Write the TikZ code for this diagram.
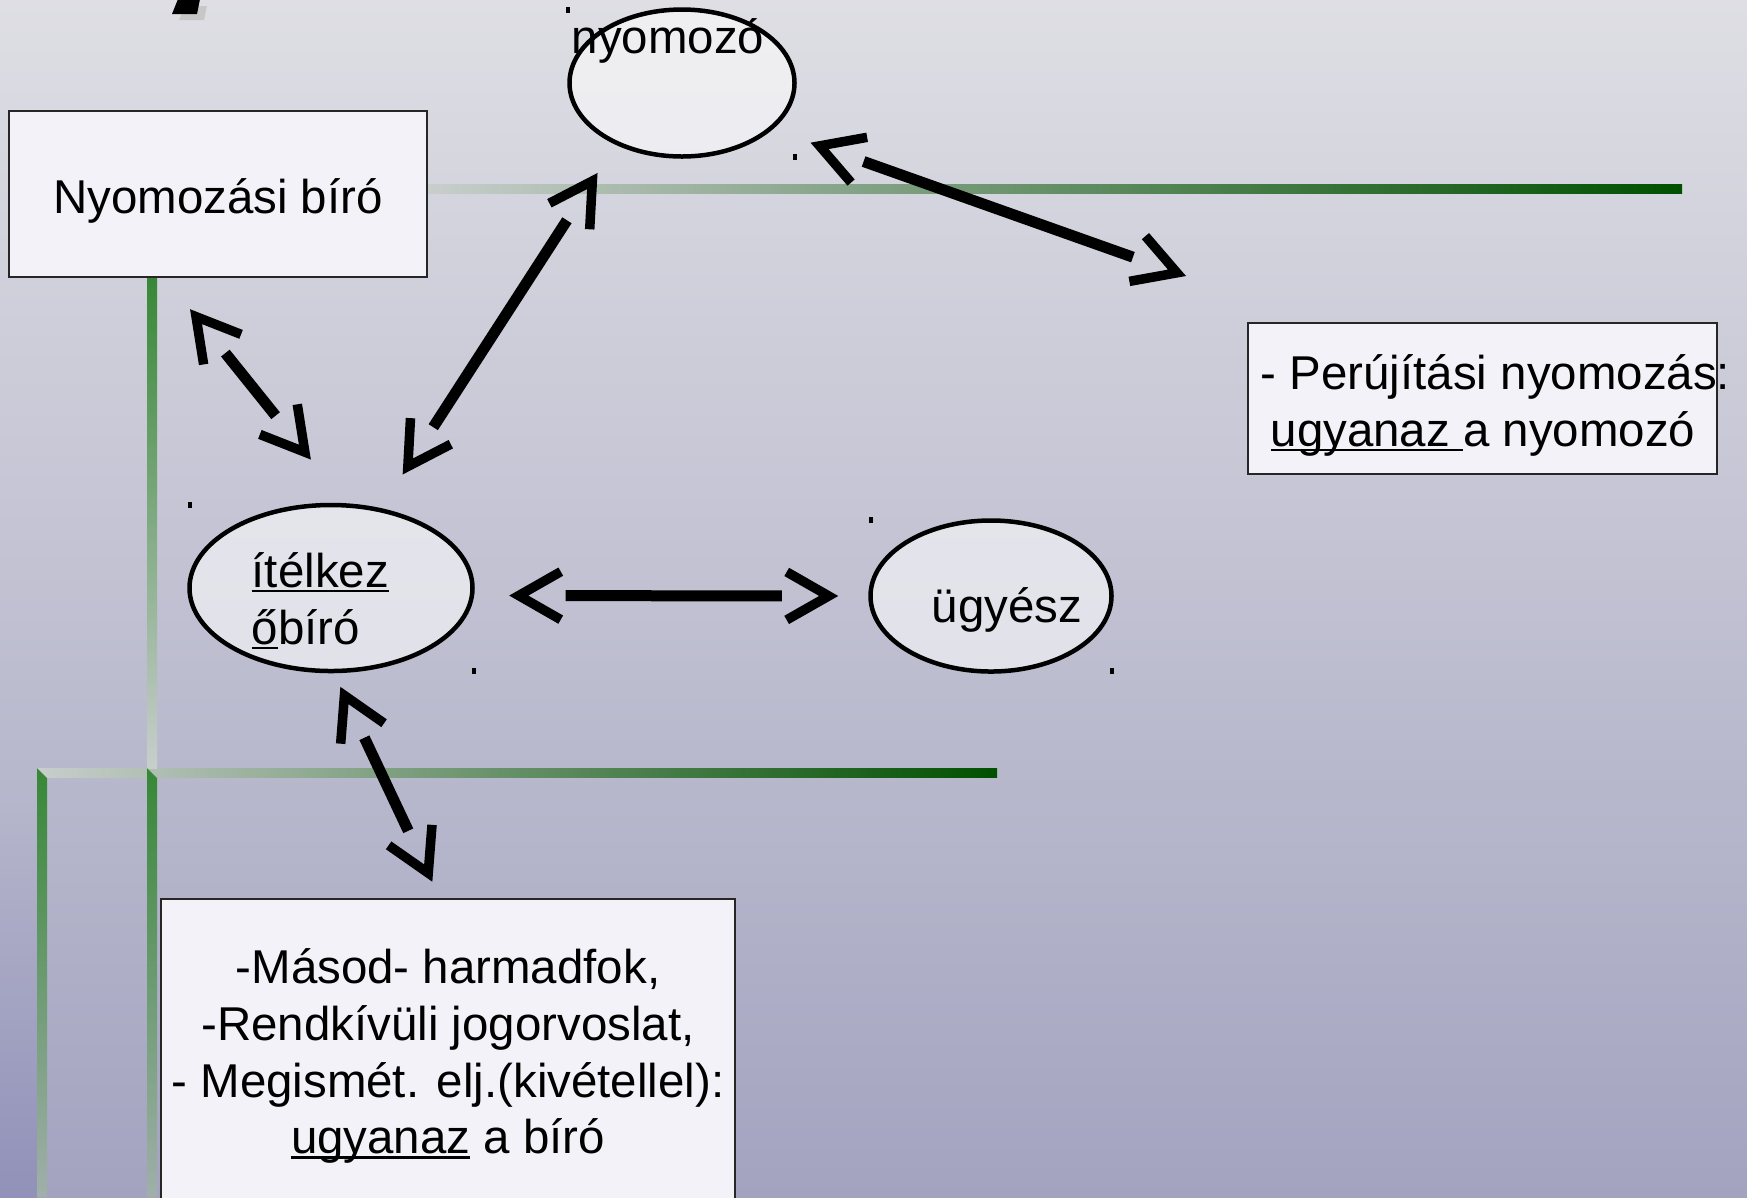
\documentclass[tikz,border=0pt]{standalone}
\usepackage{fontspec}
\setmainfont{Liberation Sans}
\usetikzlibrary{arrows.meta,shapes.geometric}
\definecolor{bgtop}{RGB}{222,222,228}
\definecolor{bgbot}{RGB}{163,163,192}
\definecolor{stripbot}{RGB}{145,145,185}
\definecolor{dkgreen}{RGB}{0,80,0}
\definecolor{midgreen}{RGB}{55,135,55}
\definecolor{ltgreen}{RGB}{200,206,204}
\definecolor{gygreen}{RGB}{160,175,170}
\definecolor{boxfill}{RGB}{242,242,248}
\newcommand\ulw[1]{\setbox0\hbox{#1}\rlap{\rule[-0.1em]{\wd0}{0.05em}}\box0\relax}
\begin{document}
\begin{tikzpicture}[font=\fontsize{13.5}{16.2}\selectfont,
	box/.style={draw=black!85, line width=0.02cm, fill=boxfill, inner sep=0pt},
	blob/.style={ellipse, draw, line width=0.045cm, fill=white, fill opacity=0.55, inner sep=0pt},
	biarr/.style={line width=0.11cm, arrows={Straight Barb[length=0.42cm,width=0.48cm,line width=0.095cm,sharp] . - . Straight Barb[length=0.42cm,width=0.48cm,line width=0.095cm,sharp]}}]
			\useasboundingbox (0,0) rectangle (17.47,-11.97);
			\clip (0,0) rectangle (17.47,-11.97);
			% background and template lines
			\shade[top color=bgtop, bottom color=bgbot] (0,0) rectangle (17.47,-11.97);
			\shade[top color=bgbot!64!bgtop, bottom color=stripbot] (0,-7.72) rectangle (0.37,-11.97);
			\fill[black!22] (1.85,-0.06) -- (2.07,-0.06) -- (2.04,-0.20) -- (1.79,-0.20) -- cycle;
			\fill (1.78,0.01) -- (2.00,0.01) -- (1.97,-0.14) -- (1.72,-0.14) -- cycle;
			\shade[left color=ltgreen, right color=dkgreen] (4.27,-1.84) rectangle (16.82,-1.93);
			\shade[left color=ltgreen, right color=dkgreen] (0.37,-7.68) rectangle (9.97,-7.77);
			\shade[top color=midgreen, bottom color=ltgreen] (1.47,-2.77) rectangle (1.57,-7.68);
			\shade[top color=midgreen, bottom color=gygreen] (1.47,-7.68) -- (1.57,-7.78) -- (1.57,-11.97) -- (1.47,-11.97) -- cycle;
			\shade[top color=midgreen, bottom color=gygreen] (0.37,-7.68) -- (0.47,-7.78) -- (0.47,-11.97) -- (0.37,-11.97) -- cycle;
			% nodes
			\node[box, minimum width=4.18cm, minimum height=1.66cm, text height=0.42cm, text depth=0.04cm] (nyb) at (2.18,-1.94) {Nyomozási bíró};
			\node[blob, minimum width=2.25cm, minimum height=1.47cm] (nyomozo) at (6.82,-0.83) {};
			\node[anchor=base] (nyTxt) at (6.68,-0.53) {nyomozó};
			\node[blob, minimum width=2.83cm, minimum height=1.66cm] (itelkezo) at (3.31,-5.88) {};
			\node[anchor=north west, inner sep=0pt, align=left] (itTxt) at (2.51,-5.52) {\ulw{ítélkez}\\\ulw{ő}bíró};
			\node[blob, minimum width=2.41cm, minimum height=1.51cm] (ugyesz) at (9.91,-5.96) {};
			\node[anchor=base] (ugyTxt) at (10.07,-6.22) {ügyész};
			\node[box, minimum width=4.69cm, minimum height=1.51cm] (per) at (14.825,-3.985) {};
			\node[anchor=north west, inner sep=0pt, align=left] (perTxt) at (12.60,-3.54) {- Perújítási nyomozás:\\\hspace*{0.1cm}\ulw{ugyanaz }a nyomozó};
			\node[box, anchor=north, minimum width=5.74cm, minimum height=3.14cm, align=center] (bot) at (4.48,-8.98) {-Másod- harmadfok,\\-Rendkívüli jogorvoslat,\\- Megismét. elj.(kivétellel):\\\ulw{ugyanaz} a bíró};
			\coordinate (perArr) at ([shift={(-0.61,0.46)}]per.north west);
			% corner marks
			\foreach \p in {(5.66,-0.07),(7.93,-1.54),(1.88,-5.02),(4.72,-6.68),(8.69,-5.17),(11.10,-6.68)}
				\fill \p rectangle ++(0.04,-0.06);
			% arrows
			\draw[biarr, shorten <=0.40cm] (nyomozo.-27) -- (perArr);
			\draw[biarr, shorten <=0.40cm, shorten >=0.56cm] ([xshift=-0.53cm]nyb.south) -- (itelkezo.80);
			\draw[biarr, shorten <=0.335cm, shorten >=0.40cm] (nyomozo.223) -- (itelkezo.58);
			\draw[biarr, shorten <=0.35cm, shorten >=0.30cm] (itelkezo.-3) -- (ugyesz.180);
			\draw[biarr, shorten <=0.15cm, shorten >=0.18cm] (itelkezo.272) -- ([xshift=-0.08cm]bot.north);
\end{tikzpicture}
\end{document}
